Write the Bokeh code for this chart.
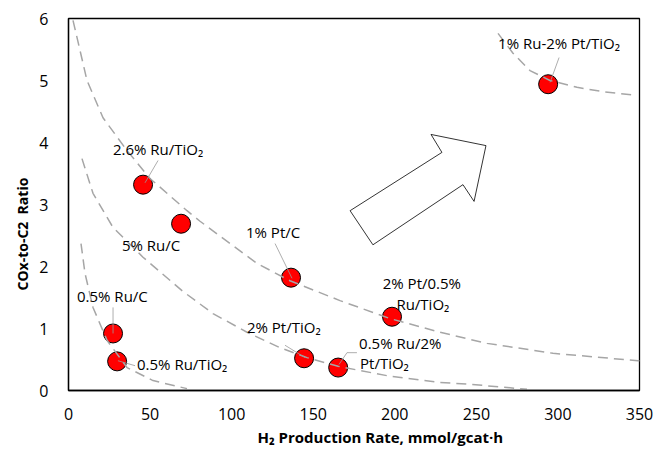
from bokeh.plotting import figure
from bokeh.models import Range1d, ColumnDataSource, FixedTicker, Title
from bokeh.core.properties import value
from bokeh.embed import file_html
from bokeh.resources import INLINE

# ---- data ----
catalysts = ["2.6% Ru/TiO\u2082", "5% Ru/C", "1% Pt/C", "2% Pt/0.5% Ru/TiO\u2082",
             "0.5% Ru/2% Pt/TiO\u2082", "2% Pt/TiO\u2082", "0.5% Ru/C",
             "0.5% Ru/TiO\u2082", "1% Ru-2% Pt/TiO\u2082"]
h2_rate = [45.7, 69.0, 136.4, 198.3, 165.3, 144.4, 27.3, 29.8, 294.0]
cox_c2 = [3.32, 2.69, 1.82, 1.19, 0.37, 0.52, 0.92, 0.47, 4.94]

curve_a_x = [2.76, 11.34, 21.15, 35.86, 49.96, 72.64, 80.61, 115.54, 135.77, 166.42,
             197.07, 227.72, 256.53, 296.98, 349.08, 355.2]
curve_a_y = [5.97, 5.00, 4.40, 3.87, 3.42, 2.90, 2.73, 2.05, 1.77, 1.45,
             1.16, 0.94, 0.76, 0.60, 0.48, 0.47]
curve_b_x = [8.27, 15.02, 27.28, 45.67, 69.57, 88.57, 109.41, 129.64, 146.19,
             165.19, 197.07, 227.72, 246.11, 281.05]
curve_b_y = [3.74, 3.18, 2.63, 2.15, 1.61, 1.24, 0.94, 0.69, 0.53,
             0.39, 0.23, 0.13, 0.10, 0.02]
curve_c_x = [7.66, 10.11, 15.02, 23.60, 35.86, 51.80, 72.64]
curve_c_y = [2.37, 1.89, 1.34, 0.81, 0.37, 0.16, 0.03]
curve_d_x = [263.27, 272.46, 282.88, 295.14, 311.69, 327.63, 348.47]
curve_d_y = [5.76, 5.44, 5.16, 5.00, 4.89, 4.82, 4.76]

arrow_x = [172.6, 228.9, 222.2, 255.9, 248.6, 241.8, 186.6]
arrow_y = [2.90, 3.84, 4.13, 3.95, 3.05, 3.32, 2.35]

x_ticks = [0, 50, 100, 150, 200, 250, 300, 350]
y_ticks = [0, 1, 2, 3, 4, 5, 6]

# ---- annotation layout ----
center_labels = dict(
    text=["2.6% Ru/TiO\u2082", "5% Ru/C", "1% Pt/C", "2% Pt/0.5%", "Ru/TiO\u2082"],
    x=[54.9, 50.6, 125.4, 216.6, 217.2],
    y=[3.90, 2.34, 2.55, 1.73, 1.40],
)
left_labels = dict(
    text=["0.5% Ru/2%", "Pt/TiO\u2082", "2% Pt/TiO\u2082", "0.5% Ru/C",
          "0.5% Ru/TiO\u2082", "1% Ru-2% Pt/TiO\u2082"],
    x=[178.1, 178.7, 109.4, 5.2, 42.0, 263.3],
    y=[0.76, 0.45, 1.02, 1.52, 0.42, 5.60],
)
leader_xs = [[54.9, 46.9], [126.6, 137.0], [176.8, 170.7, 165.8], [132.7, 145.0],
             [27.3, 27.3], [40.8, 30.3], [300.7, 295.2]]
leader_ys = [[3.71, 3.35], [2.37, 1.81], [0.61, 0.61, 0.42], [0.73, 0.53],
             [1.34, 0.92], [0.40, 0.48], [5.37, 4.97]]

FONT = "Open Sans"

p = figure(width=654, height=449, output_backend="svg", toolbar_location=None,
           x_range=Range1d(0, 350), y_range=Range1d(0, 6),
           min_border_left=68, min_border_right=15, min_border_top=18,
           min_border_bottom=40)
p.background_fill_color = "white"
p.border_fill_color = "white"
p.outline_line_color = "black"
p.outline_line_width = 1.3
p.xgrid.visible = False
p.ygrid.visible = False

for ax in (p.xaxis[0], p.yaxis[0]):
    ax.axis_line_color = "black"
    ax.axis_line_width = 1.3
    ax.major_tick_line_color = None
    ax.minor_tick_line_color = None
    ax.major_label_text_font = FONT
    ax.major_label_text_font_size = "16px"
    ax.major_label_text_color = "black"
p.xaxis[0].ticker = FixedTicker(ticks=x_ticks)
p.yaxis[0].ticker = FixedTicker(ticks=y_ticks)
p.xaxis[0].major_label_standoff = 11
p.yaxis[0].major_label_standoff = 14

xt = Title(text="H\u2082 Production Rate, mmol/gcat\u00b7h", align="left", offset=189,
           text_font=FONT, text_font_size="15px", text_font_style="bold",
           text_color="black", standoff=5)
p.add_layout(xt, "below")
yt = Title(text="COx-to-C2 \u00a0Ratio", align="left", offset=100,
           text_font=FONT, text_font_size="14px", text_font_style="bold",
           text_color="black", standoff=10)
p.add_layout(yt, "left")

# arrow shape
p.patch(arrow_x, arrow_y, fill_color="white", line_color="black", line_width=0.8)

# points
p.scatter(h2_rate, cox_c2, size=19, fill_color="#FF0000", line_color="black",
          line_width=1)

# dashed trend curves
for cx, cy in ((curve_a_x, curve_a_y), (curve_b_x, curve_b_y),
               (curve_c_x, curve_c_y), (curve_d_x, curve_d_y)):
    p.line(cx, cy, line_color="#A6A6A6", line_width=1.5, line_dash="10 6")

# leader lines
p.multi_line(leader_xs, leader_ys, line_color="#999999", line_width=0.8)

# labels
p.text(x="x", y="y", text="text", source=ColumnDataSource(center_labels),
       text_font=value(FONT), text_font_size="15px", text_align="center",
       text_baseline="middle", text_color="black")
p.text(x="x", y="y", text="text", source=ColumnDataSource(left_labels),
       text_font=value(FONT), text_font_size="15px", text_align="left",
       text_baseline="middle", text_color="black")

open("out.html", "w").write(file_html(p, INLINE))
